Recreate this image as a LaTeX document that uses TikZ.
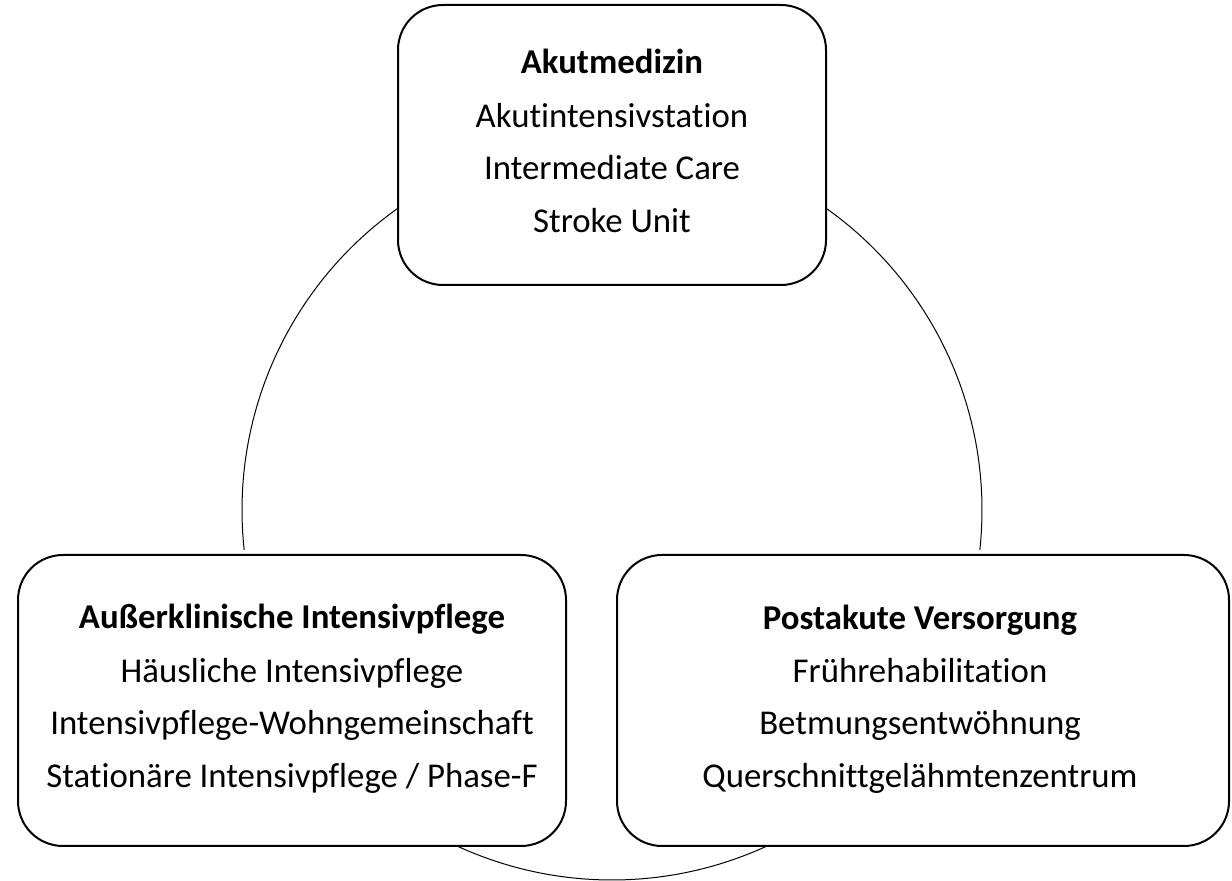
\documentclass[tikz,border=0pt]{standalone}
\usepackage{fontspec}
\setmainfont{Carlito}[Ligatures={NoCommon}]
\begin{document}
\begin{tikzpicture}[x=1pt,y=1pt,
  box/.style={draw=black, line width=2pt, fill=white, rounded corners=45pt,
    inner sep=0pt, outer sep=0pt},
  lbl/.style={anchor=base, inner sep=0pt, font=\fontsize{34.8}{40}\selectfont},
  ttl/.style={lbl, font=\fontsize{34.8}{40}\selectfont\bfseries},
  ring/.style={draw=black, line width=1pt}]
\useasboundingbox (0,0) rectangle (1232,881);
\coordinate (c) at (612,371);
% circle arcs
\draw[ring] (c) ++(125.3:370pt) arc[start angle=125.3, end angle=186.2, radius=370pt];
\draw[ring] (c) ++(-6.2:370pt) arc[start angle=-6.2, end angle=54.7, radius=370pt];
\draw[ring] (c) ++(235:370pt) arc[start angle=235, end angle=305, radius=370pt];
% boxes
\node[box, minimum width=428pt, minimum height=280pt] (akut) at (612,736) {};
\node[box, minimum width=548pt, minimum height=291pt] (aik) at (292,180.5) {};
\node[box, minimum width=612pt, minimum height=291pt] (post) at (923,180.5) {};
% texts top
\node[ttl] (a1) at (612,807) {Akutmedizin};
\node[lbl] (a2) at (612,753) {Akutintensivstation};
\node[lbl] (a3) at (612,701) {Intermediate Care};
\node[lbl] (a4) at (612,648) {Stroke Unit};
% texts left
\node[ttl] (b1) at (292,252) {Außerklinische Intensivpflege};
\node[lbl] (b2) at (292,198) {Häusliche Intensivpflege};
\node[lbl] (b3) at (292,146) {Intensivpflege-Wohngemeinschaft};
\node[lbl] (b4) at (292,93) {Stationäre Intensivpflege / Phase-F};
% texts right
\node[ttl] (p1) at (920,251) {Postakute Versorgung};
\node[lbl] (p2) at (920,198) {Frührehabilitation};
\node[lbl] (p3) at (920,146) {Betmungsentwöhnung};
\node[lbl] (p4) at (920,93) {Querschnittgelähmtenzentrum};
\end{tikzpicture}
\end{document}
